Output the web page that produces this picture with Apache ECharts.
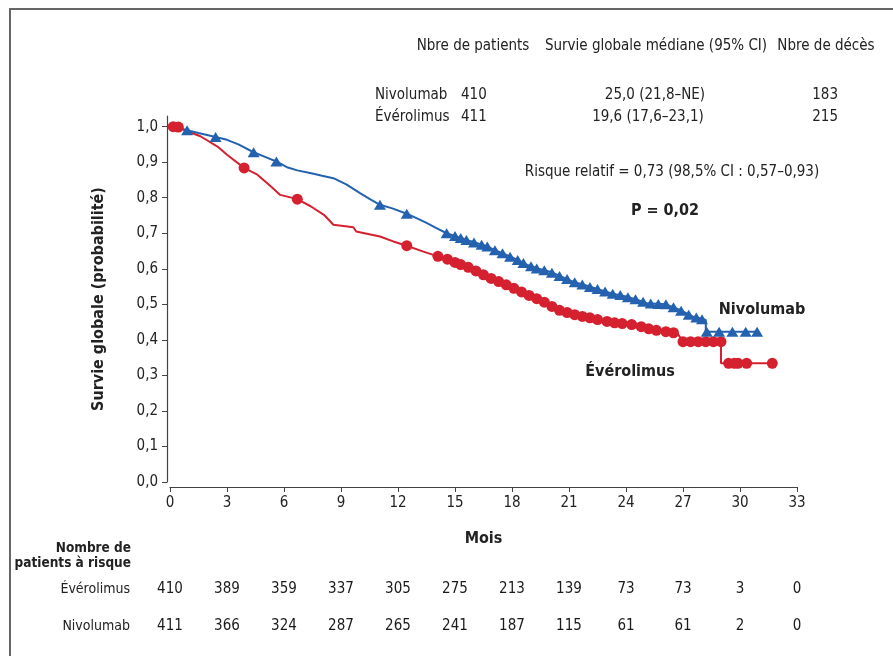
<!DOCTYPE html>
<html><head><meta charset="utf-8">
<script src="https://cdn.jsdelivr.net/npm/echarts@6/dist/echarts.min.js"></script>
<style>html,body{margin:0;padding:0;background:#fff}#c{width:893px;height:656px}</style>
</head><body><div id="c"></div>
<script>
var FONT = "'Liberation Sans Narrow','DejaVu Sans Condensed','Arial Narrow',sans-serif";
var BLUE = '#2462b0', RED = '#d5212f';

var xTicks = [0,3,6,9,12,15,18,21,24,27,30,33];
var yTicks = [0,0.1,0.2,0.3,0.4,0.5,0.6,0.7,0.8,0.9,1.0];

var nivoCurve = [[0,1.0],[0.5,0.995],[0.9,0.99],[1.5,0.982],[2.4,0.971],[3.0,0.963],[3.6,0.95],[4.4,0.928],[5.0,0.915],[5.6,0.902],[6.2,0.885],[6.7,0.877],[7.5,0.868],[8.0,0.862],[8.6,0.855],[9.3,0.837],[10.0,0.813],[10.5,0.797],[11.05,0.78],[11.7,0.77],[12.46,0.755],[13.0,0.742],[13.5,0.729],[14.0,0.715],[14.56,0.70],[15.1,0.69],[15.8,0.678],[16.7,0.663],[17.2,0.65],[17.7,0.639],[18.3,0.625],[18.8,0.611],[19.4,0.60],[20.0,0.592],[20.6,0.578],[21.2,0.564],[21.9,0.553],[22.6,0.541],[23.3,0.53],[24.0,0.522],[24.6,0.512],[25.1,0.503],[26.1,0.50],[26.8,0.485],[27.5,0.466],[28.2,0.456],[28.2,0.423],[31.0,0.423]];
var everoCurve = [[0,1.0],[0.5,0.998],[0.9,0.987],[1.6,0.973],[2.5,0.944],[3.0,0.921],[3.9,0.884],[4.6,0.865],[5.3,0.832],[5.8,0.808],[6.7,0.796],[7.4,0.776],[8.1,0.752],[8.6,0.724],[9.65,0.717],[9.8,0.705],[11.05,0.691],[11.75,0.677],[12.46,0.665],[13.3,0.649],[14.1,0.635],[14.7,0.625],[15.6,0.606],[16.7,0.578],[17.7,0.555],[18.8,0.527],[19.65,0.508],[20.35,0.485],[21.4,0.47],[22.6,0.456],[24.4,0.442],[25.4,0.428],[26.7,0.419],[27.0,0.395],[29.0,0.395],[29.0,0.334],[31.75,0.334]];

var nivoCensor = [[0.9,0.99],[2.4,0.971],[4.4,0.928],[5.6,0.902],[11.05,0.78],[12.46,0.755],[14.56,0.70],[15.0,0.692],[15.3,0.687],[15.6,0.681],[16.0,0.674],[16.4,0.668],[16.7,0.663],[17.1,0.652],[17.5,0.644],[17.9,0.634],[18.3,0.625],[18.6,0.616],[19.0,0.607],[19.3,0.601],[19.7,0.596],[20.1,0.589],[20.5,0.58],[20.9,0.571],[21.3,0.562],[21.7,0.556],[22.1,0.549],[22.5,0.543],[22.9,0.536],[23.3,0.53],[23.7,0.526],[24.1,0.52],[24.5,0.514],[24.9,0.507],[25.3,0.502],[25.7,0.501],[26.1,0.5],[26.5,0.492],[26.9,0.482],[27.3,0.471],[27.7,0.463],[28.0,0.458],[28.25,0.423],[28.9,0.423],[29.6,0.423],[30.3,0.423],[30.9,0.423]];
var everoCensor = [[0.17,1.0],[0.44,0.999],[3.9,0.884],[6.7,0.796],[12.46,0.665],[14.1,0.635],[14.6,0.627],[15.0,0.618],[15.3,0.612],[15.7,0.604],[16.1,0.594],[16.5,0.583],[16.9,0.573],[17.3,0.564],[17.7,0.555],[18.1,0.545],[18.5,0.535],[18.9,0.525],[19.3,0.516],[19.7,0.506],[20.1,0.494],[20.5,0.483],[20.9,0.477],[21.3,0.471],[21.7,0.466],[22.1,0.462],[22.5,0.457],[23.0,0.452],[23.4,0.448],[23.8,0.446],[24.3,0.443],[24.8,0.437],[25.2,0.431],[25.6,0.427],[26.1,0.423],[26.5,0.42],[27.0,0.395],[27.4,0.395],[27.8,0.395],[28.2,0.395],[28.6,0.395],[29.0,0.395],[29.4,0.334],[29.7,0.334],[29.9,0.334],[30.35,0.334],[31.7,0.334]];

var riskRows = ['Nivolumab','Évérolimus'];
var riskEvero = [410,389,359,337,305,275,213,139,73,73,3,0];
var riskNivo  = [411,366,324,287,265,241,187,115,61,61,2,0];

var headerCols = ['Nbre de patients','Survie globale médiane (95% CI)','Nbre de décès'];
var headerNivo = ['Nivolumab','410','25,0 (21,8–NE)','183'];
var headerEvero = ['Évérolimus','411','19,6 (17,6–23,1)','215'];

function fmt(v){ return v.toFixed(1).replace('.', ','); }

var chart = echarts.init(document.getElementById('c'), null, {renderer:'canvas'});
var txt = {fontFamily: FONT, fontSize: 15, fill: '#222'};
function T(x,y,t,extra){ return {type:'text', x:x, y:y, style:Object.assign({text:t}, txt, extra||{})}; }
var riskLabel = {show:true, position:'inside', formatter:function(p){return p.value[2];},
  fontFamily:FONT, fontSize:15, color:'#1a1a1a', textBorderWidth:0, textBorderColor:'transparent'};

var option = {
  animation:false,
  backgroundColor:'#fff',
  grid:[
    {left:170, right:96, top:116, bottom:174, containLabel:false},
    {left:170, right:96, top:571, bottom:11, containLabel:false}
  ],
  xAxis:[
    {type:'value', gridIndex:0, min:0, max:33, interval:3, offset:5,
     name:'Mois', nameLocation:'middle', nameGap:44,
     nameTextStyle:{fontFamily:FONT, fontSize:16, fontWeight:'bold', color:'#222'},
     axisLine:{onZero:false, lineStyle:{color:'#444', width:1.2}},
     axisTick:{show:true, length:5, lineStyle:{color:'#444'}},
     axisLabel:{fontFamily:FONT, fontSize:15, color:'#222', margin:9},
     splitLine:{show:false}},
    {type:'value', gridIndex:1, min:0, max:33, interval:3, show:false}
  ],
  yAxis:[
    {type:'value', gridIndex:0, min:0, max:1.03, offset:3,
     name:'Survie globale (probabilité)', nameLocation:'middle', nameGap:60, nameRotate:90,
     nameTextStyle:{fontFamily:FONT, fontSize:16, fontWeight:'bold', color:'#222'},
     axisLine:{show:true, onZero:false, lineStyle:{color:'#444', width:1.2}},
     axisTick:{show:true, length:5, customValues:yTicks, lineStyle:{color:'#444'}},
     axisLabel:{customValues:yTicks, formatter:function(v){return fmt(v);}, fontFamily:FONT, fontSize:15, color:'#222', margin:9},
     splitLine:{show:false}},
    {type:'category', gridIndex:1, data:riskRows,
     axisLine:{show:false}, axisTick:{show:false},
     axisLabel:{fontFamily:FONT, fontSize:14, color:'#222', margin:40}}
  ],
  series:[
    {type:'line', xAxisIndex:0, yAxisIndex:0, data:everoCurve, showSymbol:false, symbol:'none',
     lineStyle:{color:RED, width:2}, z:2},
    {type:'line', xAxisIndex:0, yAxisIndex:0, data:nivoCurve, showSymbol:false, symbol:'none',
     lineStyle:{color:BLUE, width:2}, z:2},
    {type:'scatter', xAxisIndex:0, yAxisIndex:0, data:everoCensor, symbol:'circle', symbolSize:11,
     itemStyle:{color:RED, opacity:1}, z:3},
    {type:'scatter', xAxisIndex:0, yAxisIndex:0, data:nivoCensor, symbol:'triangle', symbolSize:[12,10],
     itemStyle:{color:BLUE, opacity:1}, z:3},
    {type:'scatter', xAxisIndex:1, yAxisIndex:1, symbolSize:0,
     data:riskEvero.map(function(v,i){return [xTicks[i],'Évérolimus',v];}),
     itemStyle:{color:'#1a1a1a', opacity:1}, label:riskLabel},
    {type:'scatter', xAxisIndex:1, yAxisIndex:1, symbolSize:0,
     data:riskNivo.map(function(v,i){return [xTicks[i],'Nivolumab',v];}),
     itemStyle:{color:'#1a1a1a', opacity:1}, label:riskLabel}
  ],
  graphic:[
    {type:'rect', shape:{x:10, y:9, width:900, height:700}, style:{fill:'none', stroke:'#666', lineWidth:2}, silent:true},
    T(473,46,headerCols[0],{textAlign:'center', textVerticalAlign:'middle'}),
    T(656,46,headerCols[1],{textAlign:'center', textVerticalAlign:'middle'}),
    T(826,46,headerCols[2],{textAlign:'center', textVerticalAlign:'middle'}),
    T(375,95,headerNivo[0],{textVerticalAlign:'middle'}),
    T(461,95,headerNivo[1],{textVerticalAlign:'middle'}),
    T(655,95,headerNivo[2],{textAlign:'center', textVerticalAlign:'middle'}),
    T(838,95,headerNivo[3],{textAlign:'right', textVerticalAlign:'middle'}),
    T(375,117,headerEvero[0],{textVerticalAlign:'middle'}),
    T(461,117,headerEvero[1],{textVerticalAlign:'middle'}),
    T(648,117,headerEvero[2],{textAlign:'center', textVerticalAlign:'middle'}),
    T(838,117,headerEvero[3],{textAlign:'right', textVerticalAlign:'middle'}),
    T(672,172,'Risque relatif = 0,73 (98,5% CI : 0,57–0,93)',{textAlign:'center', textVerticalAlign:'middle'}),
    T(665,211,'P = 0,02',{textAlign:'center', textVerticalAlign:'middle', fontWeight:'bold', fontSize:16}),
    T(762,310,'Nivolumab',{textAlign:'center', textVerticalAlign:'middle', fontWeight:'bold', fontSize:16}),
    T(630,372,'Évérolimus',{textAlign:'center', textVerticalAlign:'middle', fontWeight:'bold', fontSize:16}),
    T(131,548,'Nombre de',{textAlign:'right', textVerticalAlign:'middle', fontWeight:'bold', fontSize:13.5}),
    T(131,563,'patients à risque',{textAlign:'right', textVerticalAlign:'middle', fontWeight:'bold', fontSize:13.5})
  ]
};
chart.setOption(option);
</script></body></html>
